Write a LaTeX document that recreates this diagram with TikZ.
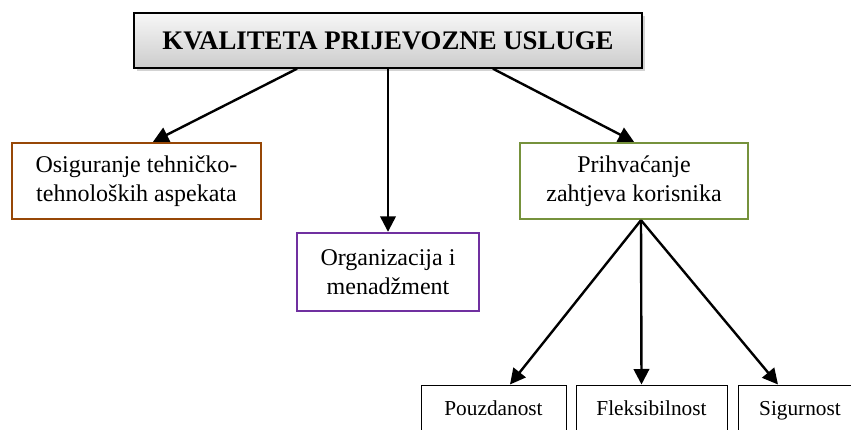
\documentclass[tikz,border=0pt]{standalone}
\usepackage{fontspec}
\setmainfont{Liberation Serif}
\usetikzlibrary{arrows.meta,shadows}
\definecolor{techbrown}{HTML}{974706}
\definecolor{orgpurple}{HTML}{7030A0}
\definecolor{userolive}{HTML}{76923C}

\begin{document}
\begin{tikzpicture}[x=1pt, y=-1pt,
  aspect/.style={draw, line width=2.4pt, align=center, inner sep=0pt, font=\fontsize{24}{28.5}\selectfont},
  need/.style={draw, line width=1pt, inner sep=0pt, minimum height=50pt, text height=14.5pt, text depth=4.5pt, font=\fontsize{21.3}{25}\selectfont},
  link/.style={arrows={-Triangle[length=15.5pt,width=15.5pt]}, line width=2.4pt}]
\useasboundingbox (0,0) rectangle (851,430);
\node[draw, line width=1.5pt, top color=gray!6, bottom color=gray!40,
  drop shadow={shadow xshift=2.5pt, shadow yshift=-3pt, opacity=0.35},
  minimum width=508pt, minimum height=55pt, inner sep=0pt,
  font=\fontsize{26.8}{30}\selectfont\bfseries] at (388,40.5) (quality) {KVALITETA PRIJEVOZNE USLUGE};
\node[aspect, draw=techbrown, minimum width=249pt, minimum height=76pt] at (136.5,181) (tech) {Osiguranje tehničko-\\tehnoloških aspekata};
\node[aspect, draw=orgpurple, minimum width=182pt, minimum height=78pt] at (388,272) (org) {Organizacija i\\menadžment};
\node[aspect, draw=userolive, minimum width=228pt, minimum height=76pt] at (634,181) (user) {Prihvaćanje\\zahtjeva korisnika};
\node[need, minimum width=145pt] at (493.5,410) (reliab) {Pouzdanost};
\node[need, minimum width=151pt] at (651.5,410) (flex) {Fleksibilnost};
\node[need, minimum width=124pt] at (800,410) (safety) {Sigurnost};
\draw[link] ([xshift=-91pt]quality.south) -- ([xshift=16.5pt]tech.north);
\draw[link] (quality.south) -- (org.north);
\draw[link] ([xshift=105pt]quality.south) -- (user.north);
\draw[link] ([xshift=7pt]user.south) -- ([xshift=16.5pt]reliab.north);
\draw[link] ([xshift=7pt]user.south) -- ([xshift=-10pt]flex.north);
\draw[link] ([xshift=7pt]user.south) -- ([xshift=-22pt]safety.north);
\end{tikzpicture}
\end{document}
